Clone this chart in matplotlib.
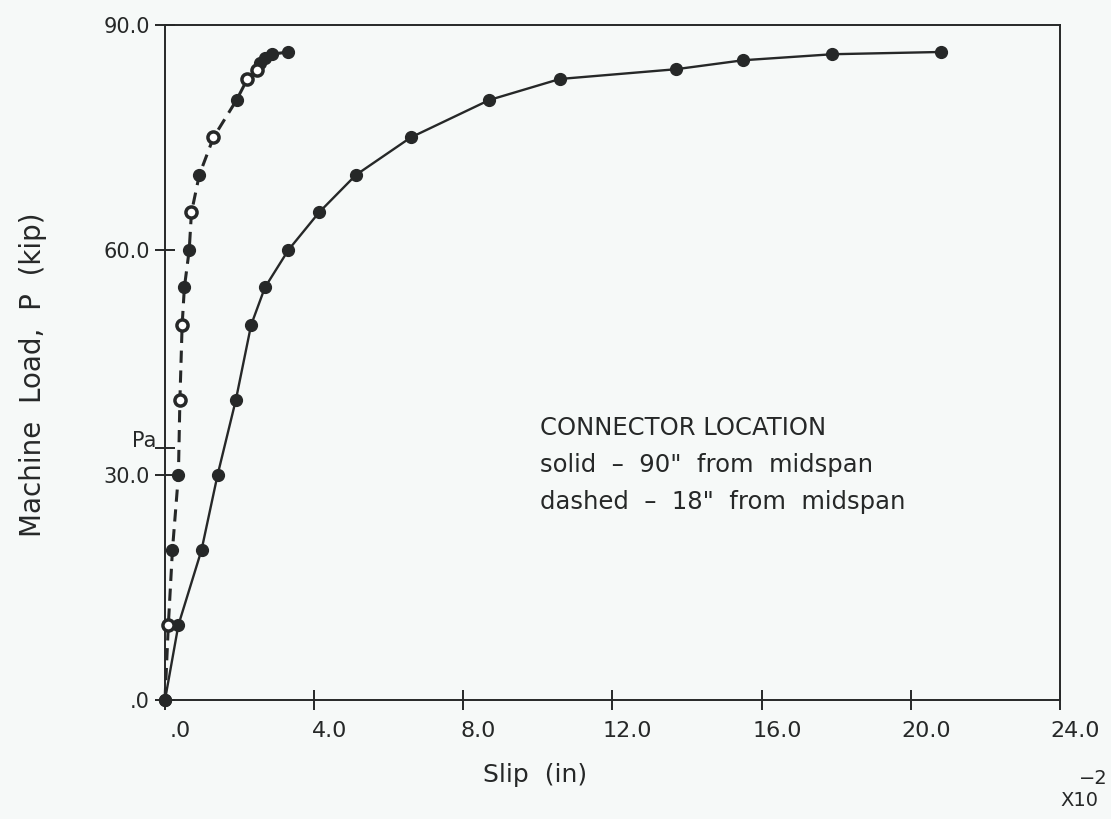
import numpy as np
import matplotlib
matplotlib.use("Agg")
import matplotlib.pyplot as plt
import matplotlib.transforms as mtransforms

# slip in units of 1e-2 in, load in kip
solid_slip = [0.0, 0.36, 0.98, 1.41, 1.90, 2.31, 2.68, 3.31, 4.13, 5.12,
              6.59, 8.70, 10.59, 13.70, 15.51, 17.90, 20.80]
solid_load = [0.0, 10.0, 20.0, 30.0, 40.0, 50.0, 55.0, 60.0, 65.0, 70.0,
              75.0, 80.0, 82.8, 84.1, 85.3, 86.1, 86.4]

dashed_slip = [0.0, 0.09, 0.20, 0.36, 0.40, 0.46, 0.52, 0.65, 0.71, 0.92,
               1.30, 1.92, 2.21, 2.46, 2.55, 2.68, 2.86, 3.31]
dashed_load = [0.0, 10.0, 20.0, 30.0, 40.0, 50.0, 55.0, 60.0, 65.0, 70.0,
               75.0, 80.0, 82.8, 84.0, 84.9, 85.6, 86.1, 86.4]
# readings plotted with open symbols on the dashed curve
dashed_open = [False, True, False, False, True, True, False, False, True, False,
               True, False, True, True, False, False, False, False]

pa_load = 33.6

x_ticks = [0, 4, 8, 12, 16, 20, 24]
x_tick_labels = [".0", "4.0", "8.0", "12.0", "16.0", "20.0", "24.0"]
y_ticks = [0, 30, 60, 90]
y_tick_labels = [".0", "30.0", "60.0", "90.0"]

ink = "#262828"
plt.rcParams["font.family"] = ["DejaVu Sans"]

fig = plt.figure(figsize=(11.11, 8.19), dpi=100)
fig.patch.set_facecolor("#f6f9f8")
ax = fig.add_axes([0.1485, 0.1453, 0.8055, 0.8242])
ax.set_facecolor("#f6f9f8")

ax.plot(solid_slip, solid_load, color=ink, lw=1.7, marker="o", ms=8.5,
        mfc=ink, mec=ink, clip_on=False, zorder=3)

ax.plot(dashed_slip, dashed_load, color=ink, lw=2.2, ls=(0, (4, 2.5)),
        clip_on=False, zorder=3)
ds = np.array(dashed_slip)
dl = np.array(dashed_load)
op = np.array(dashed_open)
ax.plot(ds[~op], dl[~op], ls="none", marker="o", ms=8.5, mfc=ink, mec=ink,
        clip_on=False, zorder=4)
ax.plot(ds[op], dl[op], ls="none", marker="o", ms=8, mfc="white", mec=ink,
        mew=2.5, clip_on=False, zorder=4)

ax.set_xlim(0, 24)
ax.set_ylim(0, 90)
for s in ax.spines.values():
    s.set_color(ink)
    s.set_linewidth(1.4)

ax.set_xticks(x_ticks)
ax.set_xticklabels(x_tick_labels)
ax.set_yticks(y_ticks)
ax.set_yticklabels(y_tick_labels)
ax.tick_params(direction="inout", length=14, width=1.4, color=ink,
               labelcolor=ink, labelsize=15)
ax.tick_params(axis="x", pad=8, labelsize=16)
ax.tick_params(axis="y", pad=4)
# tick labels sit a little to the right of their ticks
shift = mtransforms.ScaledTranslation(11 / 72, 0, fig.dpi_scale_trans)
for lbl in ax.get_xticklabels():
    lbl.set_transform(lbl.get_transform() + shift)

# Pa marker on the load axis
ax.plot([0], [pa_load], marker="_", ms=14, mew=1.4, color=ink, clip_on=False)
ax.annotate("Pa", xy=(0, pa_load), xycoords=("axes fraction", "data"),
            xytext=(-6, 5), textcoords="offset points", ha="right",
            va="center", fontsize=15, color=ink)

fig.text(0.482, 0.054, "Slip  (in)", ha="center", va="center",
         fontsize=18, color=ink)
fig.text(0.03, 0.542, "Machine  Load,  P  (kip)", ha="center", va="center",
         rotation=90, fontsize=20, color=ink)
fig.text(0.972, 0.022, "X10", ha="center", va="center", fontsize=14,
         color=ink)
fig.text(0.984, 0.05, "\u22122", ha="center", va="center", fontsize=14,
         color=ink)

note = ["CONNECTOR LOCATION",
        "solid  \u2013  90\"  from  midspan",
        "dashed  \u2013  18\"  from  midspan"]
for i, line in enumerate(note):
    ax.text(10.05, 35.3 - i * 4.93, line, ha="left", va="baseline",
            fontsize=17.5, color=ink)

fig.savefig("out.png", dpi=100, facecolor=fig.get_facecolor())
